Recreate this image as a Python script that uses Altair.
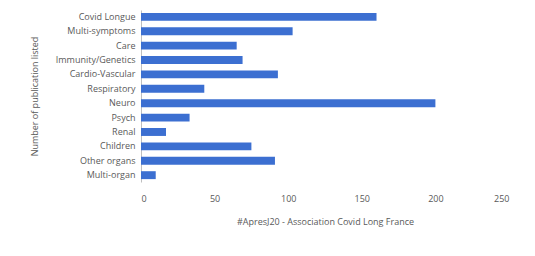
import altair as alt
import pandas as pd

categories = ["Covid Longue", "Multi-symptoms", "Care", "Immunity/Genetics",
              "Cardio-Vascular", "Respiratory", "Neuro", "Psych", "Renal",
              "Children", "Other organs", "Multi-organ"]
values = [160, 103, 65, 69, 93, 43, 200, 33, 17, 75, 91, 10]

df = pd.DataFrame({"category": categories, "count": values})

chart = alt.Chart(df).mark_bar(color="#3c6fd1").encode(
    x=alt.X("count:Q",
            scale=alt.Scale(domain=[0, 250], nice=False),
            axis=alt.Axis(values=[0, 50, 100, 150, 200, 250], grid=False,
                          domain=False, ticks=False, labelPadding=12,
                          title="#ApresJ20 - Association Covid Long France",
                          titlePadding=14)),
    y=alt.Y("category:N", sort=categories,
            scale=alt.Scale(paddingInner=0.45, paddingOuter=0.2),
            axis=alt.Axis(domain=True, domainColor="#bfbfbf", ticks=False,
                          labelPadding=6,
                          title="Number of publication listed",
                          titlePadding=16)),
).properties(
    width=368, height=172, background="white",
    padding={"left": 22, "top": 2, "right": 5, "bottom": 5}
).configure_view(
    stroke=None
).configure_axis(
    labelFont="Open Sans", labelFontSize=9, labelColor="#595959",
    titleFont="Open Sans", titleFontSize=9, titleColor="#595959",
    titleFontWeight="normal"
)

chart.save("out.html", embed_options={"renderer": "svg", "actions": False})
